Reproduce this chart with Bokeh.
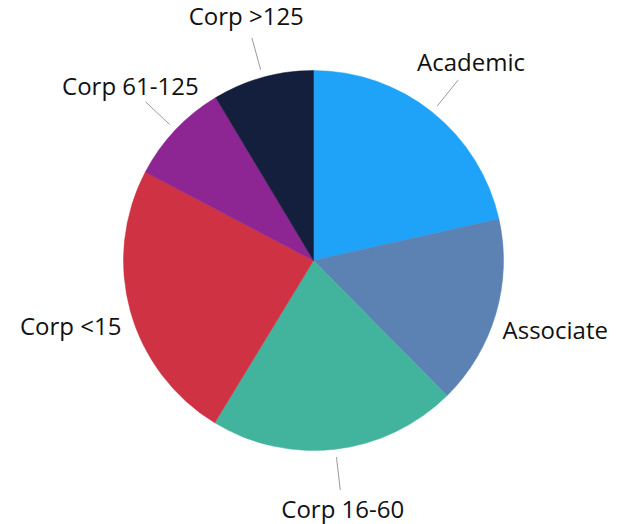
import math
from bokeh.plotting import figure
from bokeh.models import Range1d, ColumnDataSource
from bokeh.core.properties import value
from bokeh.embed import file_html
from bokeh.resources import INLINE

categories = ["Academic", "Associate", "Corp 16-60", "Corp <15", "Corp 61-125", "Corp >125"]
shares = [21.5, 16.1, 21.1, 24.0, 8.7, 8.6]
colors = ["#1EA3F8", "#5B82B2", "#42B49D", "#CF3243", "#8D2593", "#131F3D"]

R = 190
LABEL_R = 252
total = sum(shares)

starts, ends, mids = [], [], []
acc = 0.0
for s in shares:
    a0 = math.pi / 2 - 2 * math.pi * acc / total
    acc += s
    a1 = math.pi / 2 - 2 * math.pi * acc / total
    starts.append(a0)
    ends.append(a1)
    mids.append((a0 + a1) / 2)

src = ColumnDataSource(dict(start=starts, end=ends, color=colors))

p = figure(width=627, height=524, output_backend="svg", toolbar_location=None,
           x_range=Range1d(-313, 314), y_range=Range1d(-264, 260),
           min_border=0)
p.axis.visible = False
p.grid.visible = False
p.outline_line_color = None
p.background_fill_color = "white"
p.border_fill_color = "white"

p.wedge(x=0, y=0, radius=R, start_angle="start", end_angle="end",
        direction="clock", fill_color="color", line_color="color", line_width=0.5, source=src)

lx0, ly0, lx1, ly1 = [], [], [], []
for m in mids:
    if abs(math.sin(m)) > 0.5:
        lx0.append(198 * math.cos(m)); ly0.append(198 * math.sin(m))
        lx1.append(231 * math.cos(m)); ly1.append(231 * math.sin(m))
p.segment(x0=lx0, y0=ly0, x1=lx1, y1=ly1, line_color="#9a9a9a", line_width=1)

tx = [LABEL_R * math.cos(m) for m in mids]
ty = [LABEL_R * math.sin(m) + 2 for m in mids]
p.text(x=tx, y=ty, text=categories, text_align="center", text_baseline="middle",
       text_font=value("Open Sans"), text_font_size="24px", text_color="#111111")

open("out.html", "w").write(file_html(p, INLINE))
